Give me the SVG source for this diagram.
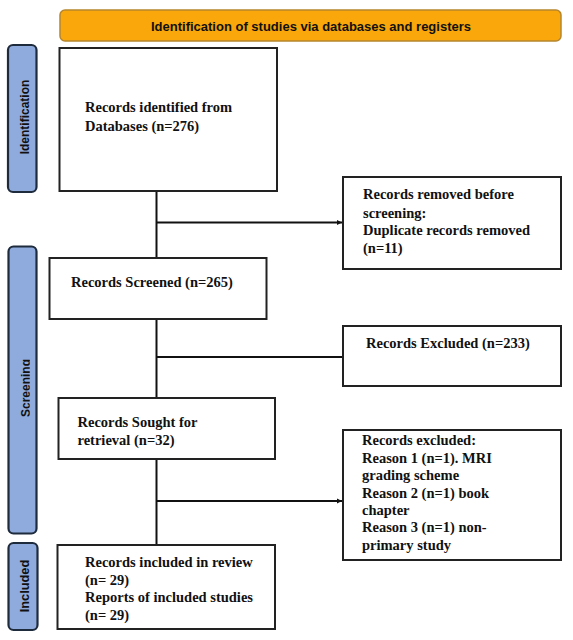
<svg xmlns="http://www.w3.org/2000/svg" width="573" height="640" viewBox="0 0 573 640">
<style>
.box{fill:#fff;stroke:#222;stroke-width:2}
.pill{fill:#8FAADC;stroke:#1E2B3C;stroke-width:2.2}
.t{font-family:"Liberation Serif","Times New Roman",serif;font-weight:bold;font-size:14.5px;fill:#111}
.s{font-family:"Liberation Sans",Arial,sans-serif;font-weight:bold;fill:#111}
.c{fill:none;stroke:#111;stroke-width:2}
</style>
<defs>
<marker id="ah" markerWidth="6" markerHeight="6" refX="5" refY="3" orient="auto" markerUnits="userSpaceOnUse">
<path d="M0,0.5 L5,3 L0,5.5 Z" fill="#111"/>
</marker>
<clipPath id="clipS" clipPathUnits="userSpaceOnUse"><rect x="0" y="240" width="29.8" height="300"/></clipPath>
</defs>
<rect width="573" height="640" fill="#fff"/>

<g id="header">
<rect x="60" y="10" width="501" height="31" rx="5" fill="#F9A70A" stroke="#B7862E" stroke-width="1.5"/>
<text class="s" x="311" y="30.5" font-size="13" text-anchor="middle">Identification of studies via databases and registers</text>
</g>

<g id="label-identification">
<rect class="pill" x="8" y="45" width="28.5" height="147" rx="5"/>
<text class="s" font-size="12" text-anchor="middle" transform="translate(29,117) rotate(-90)">Identification</text>
</g>
<g id="label-screening">
<rect class="pill" x="8.5" y="246.5" width="28" height="287" rx="5"/>
<g clip-path="url(#clipS)">
<text class="s" font-size="12" text-anchor="middle" transform="translate(29.5,388) rotate(-90)">Screening</text>
</g>
</g>
<g id="label-included">
<rect class="pill" x="8.5" y="543" width="29" height="87" rx="5"/>
<text class="s" font-size="12.8" text-anchor="middle" transform="translate(29.3,586) rotate(-90)">Included</text>
</g>

<g id="connectors">
<path class="c" d="M156.5,190 V258"/>
<path class="c" d="M156.5,319 V398"/>
<path class="c" d="M156.5,459 V545"/>
<path class="c" d="M156.5,222.5 H342" marker-end="url(#ah)"/>
<path class="c" d="M156.5,357 H343"/>
<path class="c" d="M156.5,501 H342" marker-end="url(#ah)"/>
</g>

<g id="n-identified">
<rect class="box" x="59.5" y="48" width="217.5" height="143"/>
<text class="t" x="85" y="112">Records identified from</text>
<text class="t" x="85" y="131">Databases (n=276)</text>
</g>
<g id="n-removed">
<rect class="box" x="343" y="177" width="218" height="92"/>
<text class="t" x="363" y="199">Records removed before</text>
<text class="t" x="363" y="217.5">screening:</text>
<text class="t" x="363" y="235">Duplicate records removed</text>
<text class="t" x="363" y="253">(n=11)</text>
</g>
<g id="n-screened">
<rect class="box" x="49.5" y="258" width="217" height="61"/>
<text class="t" x="71" y="287">Records Screened (n=265)</text>
</g>
<g id="n-excluded">
<rect class="box" x="343" y="326" width="218" height="60"/>
<text class="t" x="366" y="348">Records Excluded (n=233)</text>
</g>
<g id="n-sought">
<rect class="box" x="58.5" y="398" width="216.5" height="61"/>
<text class="t" x="77.5" y="427">Records Sought for</text>
<text class="t" x="77.5" y="445">retrieval (n=32)</text>
</g>
<g id="n-reasons">
<rect class="box" x="343" y="430" width="218" height="130"/>
<text class="t" x="362" y="445">Records excluded:</text>
<text class="t" x="362" y="463">Reason 1 (n=1). MRI</text>
<text class="t" x="362" y="480">grading scheme</text>
<text class="t" x="362" y="497.5">Reason 2 (n=1) book</text>
<text class="t" x="362" y="515">chapter</text>
<text class="t" x="362" y="532">Reason 3 (n=1) non-</text>
<text class="t" x="362" y="550">primary study</text>
</g>
<g id="n-included">
<rect class="box" x="57.5" y="545" width="217.5" height="84"/>
<text class="t" x="85" y="567">Records included in review</text>
<text class="t" x="85" y="585">(n= 29)</text>
<text class="t" x="85" y="602">Reports of included studies</text>
<text class="t" x="85" y="620">(n= 29)</text>
</g>
</svg>
